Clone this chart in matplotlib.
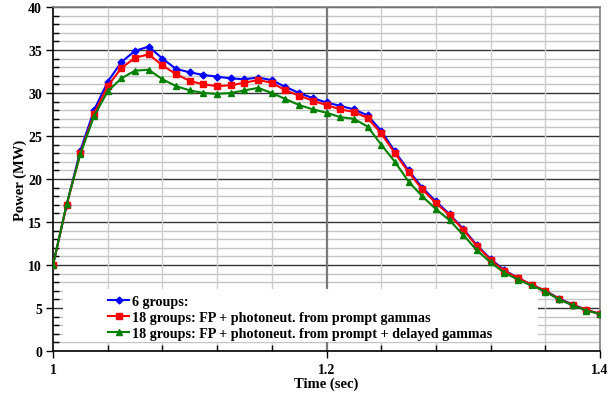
import numpy as np
import matplotlib
matplotlib.use("Agg")
import matplotlib.pyplot as plt
from matplotlib.ticker import MultipleLocator, FixedLocator
from matplotlib.patches import Rectangle

time = np.round(np.arange(1.00, 1.4001, 0.01), 2)

six_groups = [10.0, 17.0, 23.3, 28.0, 31.3, 33.6, 34.9, 35.4, 34.0, 32.8,
              32.4, 32.1, 31.9, 31.7, 31.6, 31.8, 31.5, 30.7, 30.0, 29.4,
              28.9, 28.5, 28.1, 27.4, 25.6, 23.2, 21.0, 19.0, 17.4, 15.9,
              14.2, 12.3, 10.7, 9.4, 8.5, 7.7, 7.0, 6.1, 5.4, 4.8, 4.3]

prompt = [10.0, 17.0, 23.0, 27.6, 30.8, 32.9, 34.1, 34.5, 33.2, 32.2,
          31.4, 31.0, 30.8, 30.9, 31.2, 31.5, 31.2, 30.3, 29.7, 29.1,
          28.6, 28.1, 27.8, 27.1, 25.3, 23.0, 20.8, 18.8, 17.2, 15.8,
          14.1, 12.2, 10.6, 9.3, 8.5, 7.7, 7.0, 6.05, 5.35, 4.8, 4.3]

delayed = [10.0, 17.1, 22.9, 27.3, 30.2, 31.7, 32.6, 32.7, 31.6, 30.8,
           30.3, 30.0, 29.9, 30.0, 30.3, 30.6, 30.0, 29.3, 28.6, 28.1,
           27.7, 27.2, 27.0, 26.1, 24.0, 22.0, 19.7, 18.0, 16.5, 15.2,
           13.5, 11.7, 10.3, 9.1, 8.3, 7.6, 6.9, 6.0, 5.3, 4.7, 4.3]

labels = ["6 groups:",
          "18 groups: FP + photoneut. from prompt gammas",
          "18 groups: FP + photoneut. from prompt + delayed gammas"]

serif = ["Liberation Serif", "DejaVu Serif"]
plt.rcParams['font.family'] = serif
plt.rcParams['font.weight'] = 'bold'

fig = plt.figure(figsize=(6.16, 4.02), dpi=100)
ax = fig.add_axes([53/616, 1-352/402, (600-53)/616, (352-8)/402])

ax.set_xlim(1.0, 1.4)
ax.set_ylim(0, 40)

# grid
for yv in range(0, 41):
    if yv % 5 == 0:
        ax.axhline(yv, color="#333333", lw=1.0, zorder=1)
    else:
        ax.axhline(yv, color="#c4c4c4", lw=1.0, zorder=1)
for xv in np.arange(1.04, 1.4, 0.04):
    if abs(xv - 1.2) < 1e-6:
        ax.axvline(xv, color="#7a7a7a", lw=1.6, zorder=1)
    else:
        ax.axvline(xv, color="#cccccc", lw=1.0, zorder=1)

ax.plot(time, six_groups, color="#0000ff", marker="D", ms=3.5, lw=1.5,
        label=labels[0], zorder=3)
ax.plot(time, prompt, color="#ff0000", marker="s", ms=5, lw=1.5,
        label=labels[1], zorder=4)
ax.plot(time, delayed, color="#008000", marker="^", ms=5, lw=1.5,
        label=labels[2], zorder=5)

ax.xaxis.set_major_locator(FixedLocator([1.0, 1.2, 1.4]))
ax.xaxis.set_minor_locator(MultipleLocator(0.04))
ax.set_xticklabels(["1", "1.2", "1.4"])
ax.yaxis.set_major_locator(MultipleLocator(5))
ax.yaxis.set_minor_locator(MultipleLocator(1))

ax.tick_params(axis="both", which="major", direction="out", length=5,
               width=1, labelsize=10, color="black")
ax.tick_params(axis="x", which="major", pad=4)
ax.tick_params(axis="y", which="major", pad=3)
ax.tick_params(axis="both", which="minor", direction="in", length=4,
               width=1, color="black")
for lab in ax.get_xticklabels() + ax.get_yticklabels():
    lab.set_fontweight("bold")

for s in ["left", "bottom"]:
    ax.spines[s].set_color("black")
    ax.spines[s].set_linewidth(1.2)
for s in ["top", "right"]:
    ax.spines[s].set_color("#808080")
    ax.spines[s].set_linewidth(1.2)

ax.set_xlabel("Time (sec)", fontsize=10.5, fontweight="bold", labelpad=0)
ax.set_ylabel("Power (MW)", fontsize=10.5, fontweight="bold", labelpad=1)

# legend background box
ax.add_patch(Rectangle((10/547, 9/344), 475/547, 53/344, transform=ax.transAxes,
                       facecolor="white", edgecolor="none", zorder=9))
leg = ax.legend(loc="upper left", bbox_to_anchor=(55/547, 56/344),
                frameon=False, handlelength=1.5, handletextpad=0.2,
                borderpad=0.0, borderaxespad=0.0, labelspacing=0.2,
                prop={"family": serif, "weight": "bold", "size": 10.2})
leg.set_zorder(10)

fig.savefig("out.png", dpi=100)
